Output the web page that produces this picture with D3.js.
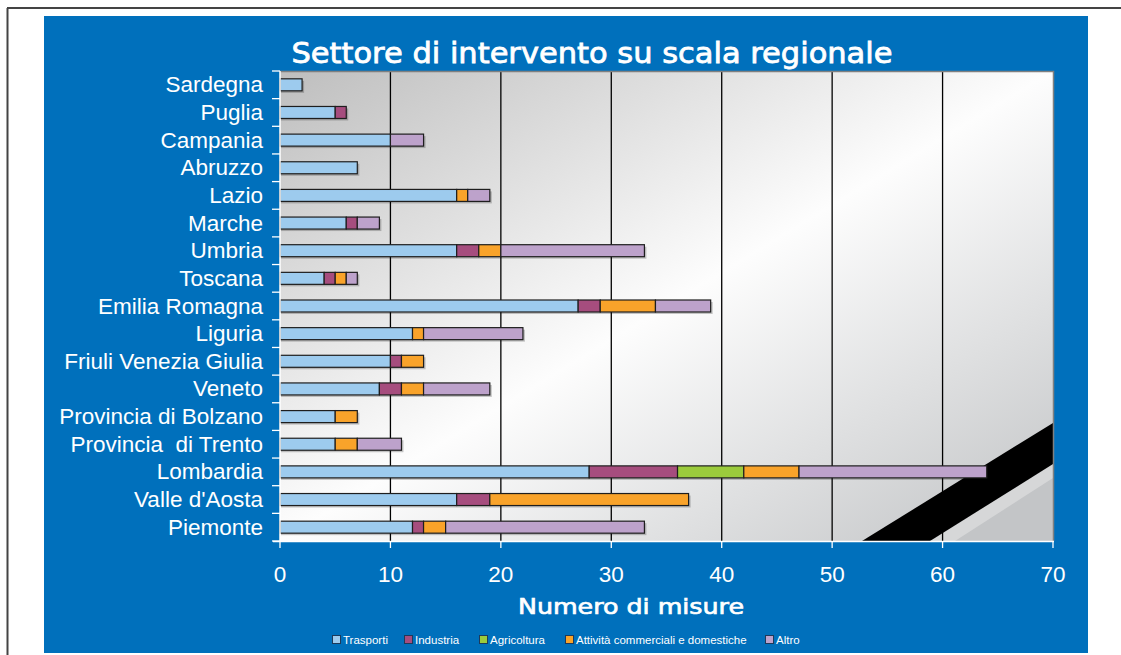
<!DOCTYPE html>
<html><head><meta charset="utf-8">
<script src="https://cdn.jsdelivr.net/npm/d3@7"></script>
<style>body{margin:0;background:#fff}svg{display:block}</style>
</head><body>
<svg id="c" width="1121" height="655"></svg>
<script>
const regions = ["Sardegna","Puglia","Campania","Abruzzo","Lazio","Marche","Umbria","Toscana","Emilia Romagna","Liguria","Friuli Venezia Giulia","Veneto","Provincia di Bolzano","Provincia  di Trento","Lombardia","Valle d'Aosta","Piemonte"];
const seriesNames = ["Trasporti","Industria","Agricoltura","Attività commerciali e domestiche","Altro"];
const seriesColors = ["#9dcbee","#a64d7e","#9bcb3c","#f9a32a","#bda2cb"];
const trasporti   = [2,5,10,7,16,6,16,4,27,12,10,9,5,5,28,16,12];
const industria   = [0,1,0,0,0,1,2,1,2,0,1,2,0,0,8,3,1];
const agricoltura = [0,0,0,0,0,0,0,0,0,0,0,0,0,0,6,0,0];
const attivita    = [0,0,0,0,1,0,2,1,5,1,2,2,2,2,5,18,2];
const altro       = [0,0,3,0,2,2,13,1,5,9,0,6,0,4,17,0,18];
const xTicks = [0,10,20,30,40,50,60,70];

const svg = d3.select("#c");
svg.append("line").attr("x1",7).attr("x2",1121).attr("y1",8).attr("y2",8).attr("stroke","#444").attr("stroke-width",2);
svg.append("line").attr("x1",7.5).attr("x2",7.5).attr("y1",8).attr("y2",655).attr("stroke","#444").attr("stroke-width",2);
svg.append("rect").attr("x",44).attr("y",16).attr("width",1044).attr("height",637).attr("fill","#0070bc");

const L=280, R=1053, T=71, B=541;
const x = d3.scaleLinear().domain([0,70]).range([L,R]);
const y = d3.scaleBand().domain(regions).range([T,B]);

const defs = svg.append("defs");
const g = defs.append("linearGradient").attr("id","bg").attr("x1",0).attr("y1",0).attr("x2",1).attr("y2",1);
g.append("stop").attr("offset",0).attr("stop-color","#bebebe");
g.append("stop").attr("offset",0.5).attr("stop-color","#fdfdfd");
g.append("stop").attr("offset",1).attr("stop-color","#c0c2c4");
defs.append("clipPath").attr("id","pc").append("rect").attr("x",L).attr("y",T).attr("width",R-L).attr("height",B-T);

svg.append("rect").attr("x",L).attr("y",T).attr("width",R-L).attr("height",B-T).attr("fill","url(#bg)");
const deco = svg.append("g").attr("clip-path","url(#pc)");
deco.append("polygon").attr("points",[[930,B],[R,464],[R,B]].join(" ")).attr("fill","#c3c5c7");
deco.append("polygon").attr("points",[[930,B],[R,464],[R,478],[955,B]].join(" ")).attr("fill","#d6d7d8");
deco.append("polygon").attr("points",[[862,B],[R,423],[R,464],[930,B]].join(" ")).attr("fill","#000");

svg.append("g").selectAll("line").data(xTicks.slice(1,-1)).join("line")
  .attr("x1",d=>x(d)).attr("x2",d=>x(d)).attr("y1",T).attr("y2",B)
  .attr("stroke","#000").attr("stroke-width",1.3);
svg.append("path").attr("d",`M${L},${T+0.5}H${R+0.5}V${B}`).attr("fill","none").attr("stroke","#808080").attr("stroke-width",1.5);

const stackData = regions.map((r,i)=>({region:r,Trasporti:trasporti[i],Industria:industria[i],Agricoltura:agricoltura[i],"Attività commerciali e domestiche":attivita[i],Altro:altro[i]}));
const stacked = d3.stack().keys(seriesNames)(stackData);
const bh = 12;
const totals = regions.map((r,i)=>trasporti[i]+industria[i]+agricoltura[i]+attivita[i]+altro[i]);
svg.append("g").selectAll("rect").data(regions).join("rect")
  .attr("x",x(0)+1).attr("y",d=>y(d)+y.bandwidth()/2-bh/2+2)
  .attr("width",(d,i)=>x(totals[i])-x(0)+1).attr("height",bh)
  .attr("fill","rgba(0,0,0,0.22)");
stacked.forEach((s,si)=>{
  svg.append("g").selectAll("rect").data(s.filter(d=>d[1]-d[0]>0)).join("rect")
    .attr("x",d=>x(d[0])).attr("y",d=>y(d.data.region)+y.bandwidth()/2-bh/2)
    .attr("width",d=>x(d[1])-x(d[0])).attr("height",bh)
    .attr("fill",seriesColors[si]).attr("stroke","#1e1e1e").attr("stroke-width",1.2);
});

svg.append("line").attr("x1",L).attr("x2",L).attr("y1",T).attr("y2",B).attr("stroke","#fff").attr("stroke-width",1.5);
const yb = regions.map(r=>y(r)).concat([B]);
svg.append("g").selectAll("line").data(yb).join("line")
  .attr("x1",272).attr("x2",L).attr("y1",d=>d).attr("y2",d=>d).attr("stroke","#fff").attr("stroke-width",1.3);
svg.append("g").selectAll("text").data(regions).join("text")
  .attr("x",263).attr("y",d=>y(d)+y.bandwidth()/2+7.5)
  .attr("text-anchor","end").attr("fill","#fff")
  .attr("font-family","'Liberation Sans', Arial, sans-serif").attr("font-size",22.5)
  .style("white-space","pre").text(d=>d);

svg.append("line").attr("x1",273).attr("x2",R+1).attr("y1",B+0.5).attr("y2",B+0.5).attr("stroke","#fff").attr("stroke-width",1.3);
svg.append("g").selectAll("line").data(xTicks).join("line")
  .attr("x1",d=>x(d)).attr("x2",d=>x(d)).attr("y1",B).attr("y2",B+7).attr("stroke","#fff").attr("stroke-width",1.3);
svg.append("g").selectAll("text").data(xTicks).join("text")
  .attr("x",d=>x(d)).attr("y",582).attr("text-anchor","middle").attr("fill","#fff")
  .attr("font-family","'Liberation Sans', Arial, sans-serif").attr("font-size",22.5).text(d=>d);

svg.append("text").attr("x",592).attr("y",63).attr("text-anchor","middle").attr("fill","#fff")
  .attr("stroke","#fff").attr("stroke-width",0.8)
  .attr("font-family","'DejaVu Sans', Verdana, sans-serif").attr("font-size",29)
  .attr("textLength",601).attr("lengthAdjust","spacingAndGlyphs")
  .text("Settore di intervento su scala regionale");
svg.append("text").attr("x",631).attr("y",614).attr("text-anchor","middle").attr("fill","#fff")
  .attr("stroke","#fff").attr("stroke-width",0.7)
  .attr("font-family","'DejaVu Sans', Verdana, sans-serif").attr("font-size",22)
  .attr("textLength",226).attr("lengthAdjust","spacingAndGlyphs")
  .text("Numero di misure");

const legX = [332,404,479,565,765];
const lg = svg.append("g").selectAll("g").data(seriesNames).join("g")
  .attr("transform",(d,i)=>`translate(${legX[i]},635)`);
lg.append("rect").attr("x",0.5).attr("y",0.5).attr("width",8).attr("height",8)
  .attr("fill",(d,i)=>seriesColors[i]).attr("stroke","#1e3a5a").attr("stroke-width",1);
lg.append("text").attr("x",11).attr("y",9).attr("fill","#fff")
  .attr("font-family","'Liberation Sans', Arial, sans-serif").attr("font-size",11.5).text(d=>d);
</script>
</body></html>
